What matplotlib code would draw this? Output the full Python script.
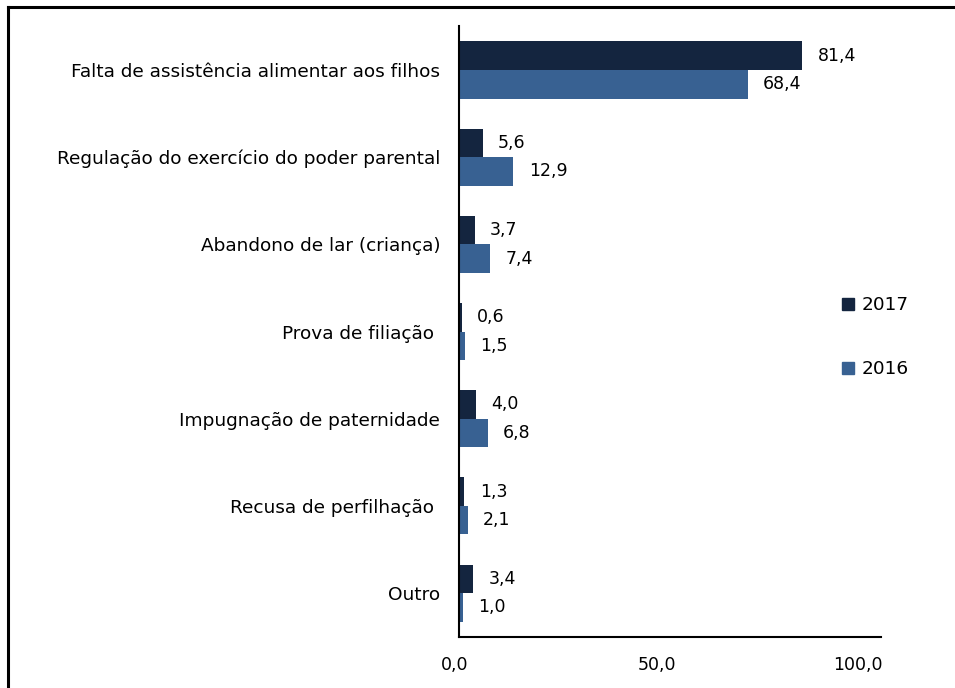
import matplotlib
matplotlib.use("Agg")
import matplotlib.pyplot as plt
import matplotlib.transforms as mtransforms
import numpy as np
from matplotlib.lines import Line2D

categories = ["Falta de assistência alimentar aos filhos",
              "Regulação do exercício do poder parental",
              "Abandono de lar (criança)",
              "Prova de filiação ",
              "Impugnação de paternidade",
              "Recusa de perfilhação ",
              "Outro"]
v2017 = [81.4, 5.6, 3.7, 0.6, 4.0, 1.3, 3.4]
v2016 = [68.4, 12.9, 7.4, 1.5, 6.8, 2.1, 1.0]
series_names = ["2017", "2016"]
xticks = [0, 50, 100]
xticklabels = ["0,0", "50,0", "100,0"]

c2017 = "#14253f"
c2016 = "#386192"

plt.rcParams['font.family'] = ['DejaVu Sans']
fig = plt.figure(figsize=(9.55, 6.88), dpi=100)
ax = fig.add_axes([0.4806, 0.0747, 0.4419, 0.8869])

y = np.arange(len(categories))
h = 0.327
ax.barh(y - h/2, v2017, height=h, color=c2017, label=series_names[0])
ax.barh(y + h/2, v2016, height=h, color=c2016, label=series_names[1])

for yi, a, b in zip(y, v2017, v2016):
    ax.annotate(f"{a:.1f}".replace(".", ","), (a, yi - h/2), xytext=(11, 0),
                textcoords="offset points", va="center", ha="left", fontsize=12.5)
    ax.annotate(f"{b:.1f}".replace(".", ","), (b, yi + h/2), xytext=(11, 0),
                textcoords="offset points", va="center", ha="left", fontsize=12.5)

ax.set_ylim(len(categories) - 0.5, -0.5)
ax.set_xlim(0, 100)
ax.set_yticks(y)
ax.set_yticklabels(categories, fontsize=13.3)
ax.set_xticks(xticks)
ax.set_xticklabels(xticklabels, fontsize=12.5)
ax.tick_params(axis='both', length=0)
ax.tick_params(axis='y', pad=13.5)
ax.tick_params(axis='x', pad=14)
# the reference's tick labels sit slightly left of their positions
shifts_px = [-4, -13, -23]
for lab, dx in zip(ax.get_xticklabels(), shifts_px):
    lab.set_transform(lab.get_transform() +
                      mtransforms.ScaledTranslation(dx / 100, 0, fig.dpi_scale_trans))
for s in ["top", "right"]:
    ax.spines[s].set_visible(False)
for s in ["left", "bottom"]:
    ax.spines[s].set_linewidth(1.5)
    ax.spines[s].set_color("black")

handles = [Line2D([], [], marker='s', linestyle='', color=c2017, markersize=8.5),
           Line2D([], [], marker='s', linestyle='', color=c2016, markersize=8.5)]
fig.legend(handles, series_names, loc="center left", bbox_to_anchor=(0.872, 0.51),
           frameon=False, fontsize=13.3, labelspacing=2.5, handlelength=0.6,
           handletextpad=0.45, borderpad=0)

# figure border (top and left)
fig.add_artist(Line2D([0.0084, 0.0084], [0.0, 0.9898], transform=fig.transFigure,
                      color="black", linewidth=2.2))
fig.add_artist(Line2D([0.0084, 1.0], [0.9898, 0.9898], transform=fig.transFigure,
                      color="black", linewidth=2.2))

fig.savefig("out.png", dpi=100)
